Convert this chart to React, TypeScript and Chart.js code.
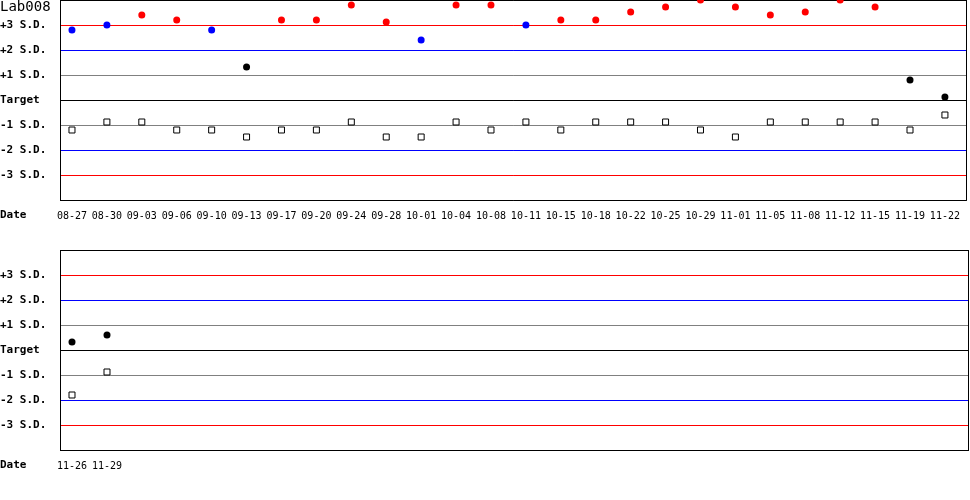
import { useEffect, useRef } from "react";
import { Chart, registerables } from "chart.js";

Chart.register(...registerables);

// values are in S.D. units from the target
const topDates = [
  "08-27", "08-30", "09-03", "09-06", "09-10", "09-13", "09-17", "09-20", "09-24",
  "09-28", "10-01", "10-04", "10-08", "10-11", "10-15", "10-18", "10-22", "10-25",
  "10-29", "11-01", "11-05", "11-08", "11-12", "11-15", "11-19", "11-22",
];
const topLevel1 = [
  2.8, 3.0, 3.4, 3.2, 2.8, 1.32, 3.2, 3.2, 3.8, 3.12, 2.4, 3.8, 3.8,
  3.0, 3.2, 3.2, 3.52, 3.72, 4.0, 3.72, 3.4, 3.52, 4.0, 3.72, 0.8, 0.12,
];
const topLevel2 = [
  -1.2, -0.88, -0.88, -1.2, -1.2, -1.48, -1.2, -1.2, -0.88, -1.48, -1.48, -0.88, -1.2,
  -0.88, -1.2, -0.88, -0.88, -0.88, -1.2, -1.48, -0.88, -0.88, -0.88, -0.88, -1.2, -0.6,
];

const bottomDates = ["11-26", "11-29"];
const bottomLevel1 = [0.32, 0.6];
const bottomLevel2 = [-1.8, -0.88];

const sdValues = [3, 2, 1, 0, -1, -2, -3];
const sdLabels = ["+3 S.D.", "+2 S.D.", "+1 S.D.", "Target", "-1 S.D.", "-2 S.D.", "-3 S.D."];

const MONO = "'DejaVu Sans Mono', monospace";
const PX_PER_POINT = 35;

function lineColor(v: number) {
  const a = Math.round(Math.abs(Number(v)));
  if (a === 3) return "#ff0000";
  if (a === 2) return "#0000ff";
  if (a === 1) return "#808080";
  return "#000000";
}

function dotColor(v: number) {
  if (v > 3) return "#ff0000";
  if (v >= 2) return "#0000ff";
  return "#000000";
}

interface PanelProps {
  dates: string[];
  level1: number[];
  level2: number[];
  title?: string;
}

function QcPanel({ dates, level1, level2, title }: PanelProps) {
  const canvasRef = useRef<HTMLCanvasElement | null>(null);

  useEffect(() => {
    if (!canvasRef.current) {
      return;
    }

    const textPlugin = {
      id: "qcText",
      afterDraw(chart: any) {
        const { ctx, chartArea } = chart;
        ctx.save();
        // right edge of the frame
        ctx.strokeStyle = "#000";
        ctx.lineWidth = 1;
        ctx.beginPath();
        const rx = Math.round(chartArea.right) - 0.5;
        ctx.moveTo(rx, chartArea.top);
        ctx.lineTo(rx, chartArea.bottom + 0.5);
        ctx.stroke();

        ctx.fillStyle = "#000";
        ctx.textBaseline = "middle";
        ctx.textAlign = "left";
        ctx.font = `bold 11px ${MONO}`;
        ctx.fillText("Date", 0, chartArea.bottom + 15);
        if (title) {
          ctx.font = `14px ${MONO}`;
          ctx.fillText(title, 0, 7);
        }
        ctx.restore();
      },
    };

    const chart = new Chart(canvasRef.current, {
      type: "scatter",
      data: {
        datasets: [
          {
            label: "Level 1",
            data: level1.map((v, i) => ({ x: i, y: v })),
            pointStyle: "circle",
            pointRadius: 3.5,
            pointBorderWidth: 0,
            pointBackgroundColor: level1.map(dotColor),
            pointBorderColor: level1.map(dotColor),
            clip: 0,
          },
          {
            label: "Level 2",
            data: level2.map((v, i) => ({ x: i, y: v })),
            pointStyle: "rect",
            pointRadius: 4.24,
            pointBorderWidth: 1,
            pointBackgroundColor: "#ffffff",
            pointBorderColor: "#000000",
            clip: 0,
          },
        ],
      },
      options: {
        animation: false,
        responsive: true,
        maintainAspectRatio: false,
        layout: { autoPadding: false, padding: { left: 0, right: 1, top: 0, bottom: 0 } },
        plugins: {
          legend: { display: false },
          tooltip: { enabled: false },
          title: { display: false },
        },
        scales: {
          x: {
            type: "linear",
            min: -12 / PX_PER_POINT,
            max: (969 - 72) / PX_PER_POINT,
            afterBuildTicks: (scale: any) => {
              scale.ticks = dates.map((_, i) => ({ value: i }));
            },
            afterFit: (scale: any) => {
              scale.height = 50;
            },
            grid: { display: false, drawTicks: false },
            border: { display: false },
            ticks: {
              autoSkip: false,
              maxRotation: 0,
              padding: 10,
              color: "#000",
              font: { family: MONO, size: 10 },
              callback: (v: any) => dates[v] ?? "",
            },
          },
          y: {
            type: "linear",
            min: -4,
            max: 4,
            afterFit: (scale: any) => {
              scale.width = 60;
              scale.paddingTop = 0;
              scale.paddingBottom = 0;
            },
            grid: {
              drawTicks: false,
              lineWidth: 1,
              color: (ctx: any) => lineColor(ctx.tick?.value),
            },
            border: { display: true, color: "#000", width: 1 },
            ticks: {
              stepSize: 1,
              padding: 0,
              crossAlign: "far",
              color: "#000",
              font: { family: MONO, size: 11, weight: "bold" },
              callback: (v: any) => {
                const idx = sdValues.indexOf(v);
                return idx >= 0 ? sdLabels[idx] : "";
              },
            },
          },
        },
      },
      plugins: [textPlugin],
    } as any);

    return () => {
      chart.destroy();
    };
  }, [dates, level1, level2, title]);

  return (
    <div style={{ position: "relative", width: "970px", height: "250px" }}>
      <canvas ref={canvasRef}></canvas>
    </div>
  );
}

export default function App() {
  return (
    <div
      style={{
        position: "fixed",
        left: 0,
        top: 0,
        width: "970px",
        height: "500px",
        background: "#fff",
      }}
    >
      <QcPanel dates={topDates} level1={topLevel1} level2={topLevel2} title="Lab008" />
      <QcPanel dates={bottomDates} level1={bottomLevel1} level2={bottomLevel2} />
    </div>
  );
}
